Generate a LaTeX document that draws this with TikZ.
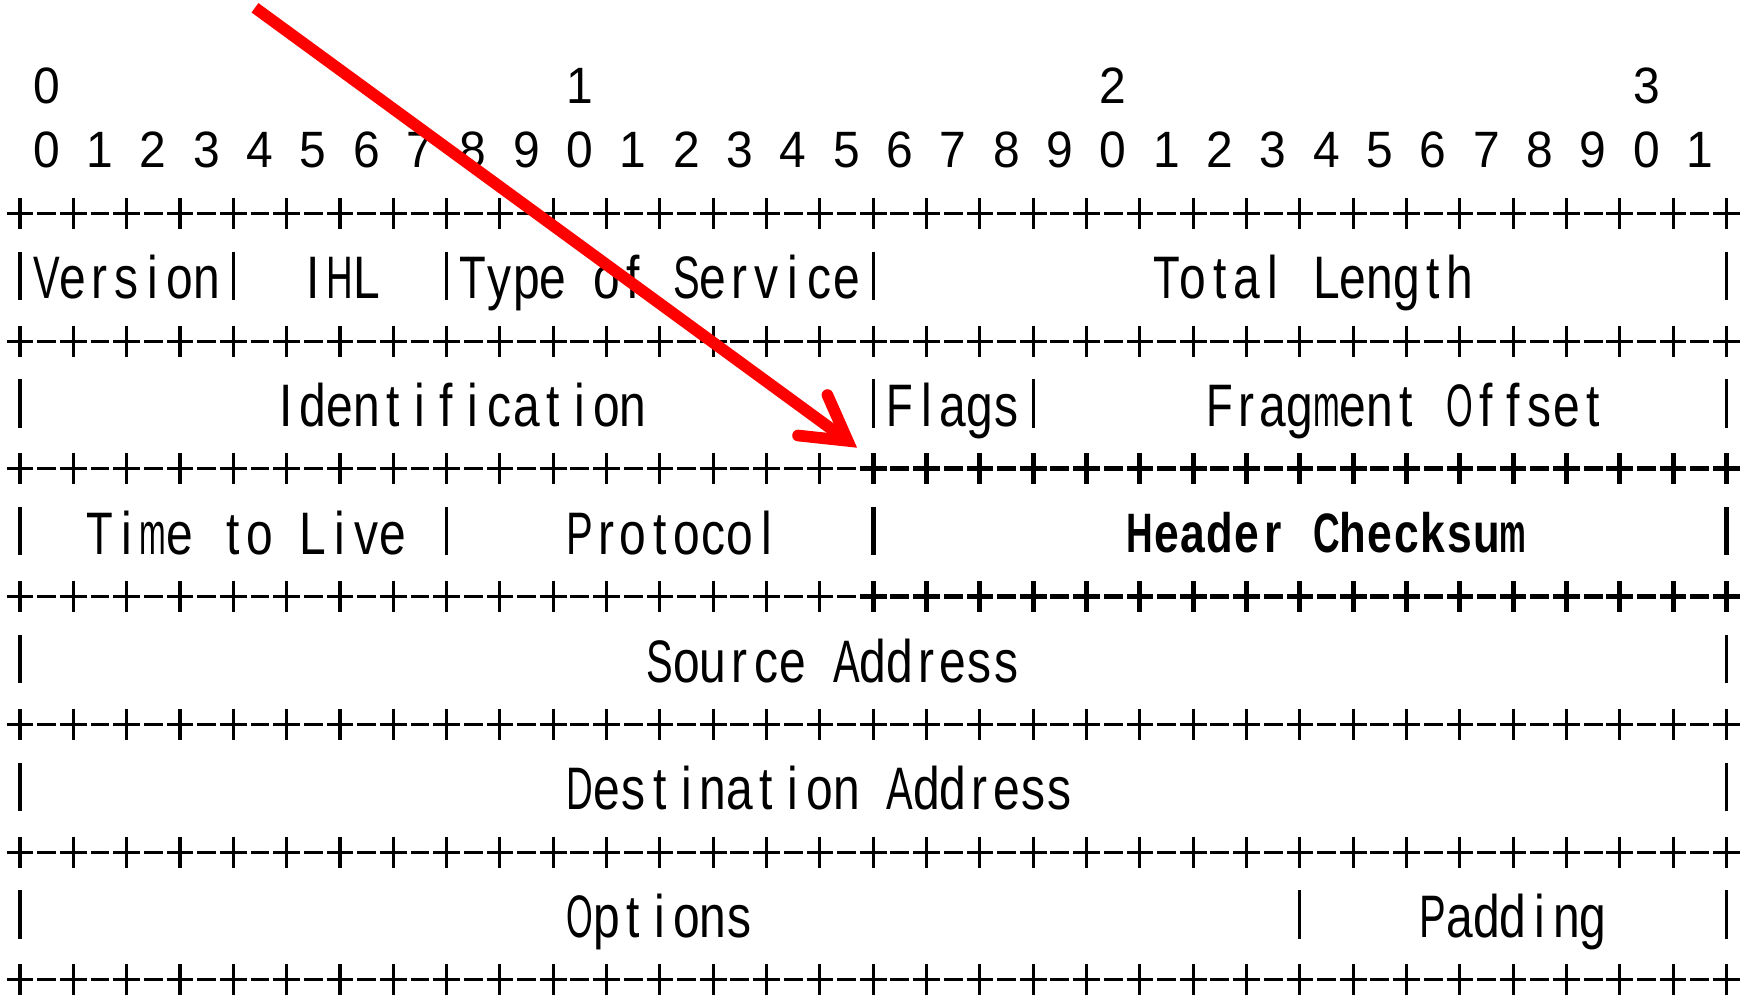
\documentclass[tikz,border=0pt]{standalone}
\usepackage{fontspec}
\usepackage{graphicx}
\setmainfont{Liberation Sans}
\newfontfamily\cellfont[FakeStretch=0.8]{Liberation Sans}
\usetikzlibrary{calc}

% every character sits in a fixed-pitch cell; wide glyphs are squeezed to fit
\newsavebox\glyphbox
\newlength\glyphmax
\setlength\glyphmax{24pt}
\newcommand\fitglyph[1]{%
  \sbox\glyphbox{#1}%
  \ifdim\wd\glyphbox>\glyphmax
    \resizebox{\glyphmax}{\height}{\usebox\glyphbox}%
  \else
    \usebox\glyphbox
  \fi}

\newcommand\placeglyph[5]{% style, name, x, y, character
  \node[glyph,#1] (#2) at (#3,#4) {\fitglyph{#5}};}

% \asciitext[style]{first column}{line}{text}
\ExplSyntaxOn
\NewDocumentCommand \asciitext { O{} m m m }
  {
    \int_set:Nn \l_tmpa_int { #2 }
    \str_map_inline:nn { #4 }
      {
        \tl_if_blank:nF { ##1 }
          {
            \use:x
              {
                \exp_not:N \placeglyph
                  { \exp_not:n { #1 } }
                  { t - \int_eval:n { #3 } - \int_use:N \l_tmpa_int }
                  { \fp_eval:n { 18 + 24 * \l_tmpa_int } }
                  { \fp_eval:n { 77 + 57.5 * ( #3 ) } }
                  { \exp_not:n { ##1 } }
              }
          }
        \int_incr:N \l_tmpa_int
      }
  }
\ExplSyntaxOff

% a +-+-+ separator line; columns from #2 on are drawn heavy
\newcommand\borderrow[2]{%
  \foreach \c in {0,...,64}{%
    \pgfmathsetmacro\bx{18+24*\c}%
    \pgfmathsetmacro\by{77+57.5*#1}%
    \ifnum\c<#2 \def\bw{2.8pt}\else\def\bw{4.6pt}\fi
    \ifodd\c
      \draw[line width=\bw] (\bx-8.5,\by) -- (\bx+8.5,\by);
    \else
      \draw[line width=\bw] (\bx-12,\by) -- (\bx+12,\by) (\bx,\by-14) -- (\bx,\by+14);
    \fi
  }}

% a | field separator at column #1 of line #2
\newcommand\vbarat[3]{%
  \pgfmathsetmacro\bx{18+24*#1}%
  \pgfmathsetmacro\by{77+57.5*#2}%
  \draw[line width=#3] (\bx,\by-23) -- (\bx,\by+20.5);}

\tikzset{
  glyph/.style={inner sep=0pt, anchor=base, yshift=-19.4pt,
    font=\cellfont\fontsize{54pt}{58pt}\selectfont},
  digit/.style={yshift=2.9pt, font=\normalfont\fontsize{46pt}{50pt}\selectfont},
  heavy/.style={yshift=1.5pt, font=\cellfont\bfseries\fontsize{50pt}{54pt}\selectfont},
  arrowline/.style={draw=red, line width=10.5pt},
}

\begin{document}
\begin{tikzpicture}[x=1pt, y=-1pt]
  \fill[white] (0,0) rectangle (1568,900);
  \useasboundingbox (0,0) rectangle (1568,900);

  % bit numbering
  \asciitext[digit]{1}{0}{0}
  \asciitext[digit]{21}{0}{1}
  \asciitext[digit]{41}{0}{2}
  \asciitext[digit]{61}{0}{3}
  \asciitext[digit]{1}{1}{0 1 2 3 4 5 6 7 8 9 0 1 2 3 4 5 6 7 8 9 0 1 2 3 4 5 6 7 8 9 0 1}

  % separator lines
  \borderrow{2}{65}
  \borderrow{4}{65}
  \borderrow{6}{32}
  \borderrow{8}{32}
  \borderrow{10}{65}
  \borderrow{12}{65}
  \borderrow{14}{65}

  % field separators
  \foreach \c in {0,8,16,32,64} {\vbarat{\c}{3}{2.8pt}}
  \foreach \c in {0,32,38,64} {\vbarat{\c}{5}{2.8pt}}
  \foreach \c in {0,16} {\vbarat{\c}{7}{2.8pt}}
  \foreach \c in {32,64} {\vbarat{\c}{7}{4.6pt}}
  \foreach \c in {0,64} {\vbarat{\c}{9}{2.8pt}}
  \foreach \c in {0,64} {\vbarat{\c}{11}{2.8pt}}
  \foreach \c in {0,48,64} {\vbarat{\c}{13}{2.8pt}}

  % field names
  \asciitext{1}{3}{Version}
  \asciitext{11}{3}{IHL}
  \asciitext{17}{3}{Type of Service}
  \asciitext{43}{3}{Total Length}
  \asciitext{10}{5}{Identification}
  \asciitext{33}{5}{Flags}
  \asciitext{45}{5}{Fragment Offset}
  \asciitext{3}{7}{Time to Live}
  \asciitext{21}{7}{Protocol}
  \asciitext[heavy]{42}{7}{Header Checksum}
  \asciitext{24}{9}{Source Address}
  \asciitext{21}{11}{Destination Address}
  \asciitext{21}{13}{Options}
  \asciitext{53}{13}{Padding}

  % pointer arrow
  \coordinate (arrowtail) at (229.5,7);
  \coordinate (arrowtip) at (763,396.8);
  \draw[arrowline] (arrowtail) -- (arrowtip);
  \draw[arrowline, line cap=round, line join=miter]
    ($(arrowtip)+(-18.2,-41.2)$) -- (arrowtip) -- ($(arrowtip)+(-44.7,-4.8)$);
\end{tikzpicture}
\end{document}
